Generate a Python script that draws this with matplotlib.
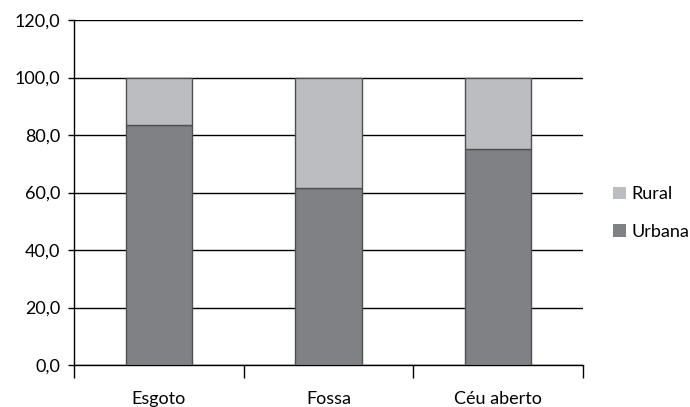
import matplotlib.pyplot as plt
from matplotlib.ticker import FixedLocator, FuncFormatter

plt.rcParams['font.family'] = ['Lato', 'DejaVu Sans']

categories = ["Esgoto", "Fossa", "Céu aberto"]
urbana = [83.5, 61.6, 75.0]
rural = [16.5, 38.4, 25.0]

fig = plt.figure(figsize=(6.9, 4.07), dpi=100)
ax = fig.add_axes([74 / 690, 1 - 365 / 407, 509 / 690, 345 / 407])

x = list(range(len(categories)))
b1 = ax.bar(x, urbana, width=0.39, color="#808185", edgecolor="#505050",
            linewidth=1, label="Urbana", zorder=3)
b2 = ax.bar(x, rural, width=0.39, bottom=urbana, color="#bcbdc0",
            edgecolor="#505050", linewidth=1, label="Rural", zorder=3)

ax.set_xlim(-0.5, 2.5)
ax.set_ylim(0, 120)
ax.set_yticks(range(0, 121, 20))
ax.yaxis.set_major_formatter(FuncFormatter(lambda v, p: f"{v:.1f}".replace(".", ",")))
ax.grid(axis="y", color="black", linewidth=1, zorder=0)

ax.set_xticks(x)
ax.set_xticklabels(categories)
ax.xaxis.set_minor_locator(FixedLocator([-0.5, 0.5, 1.5, 2.5]))
ax.tick_params(axis="x", which="major", length=0, pad=18.5, labelsize=13)
ax.tick_params(axis="x", which="minor", length=9.5, width=1, direction="out")
ax.tick_params(axis="y", length=4, width=1, pad=6, labelsize=13)

for s in ["top", "right"]:
    ax.spines[s].set_visible(False)
for s in ["left", "bottom"]:
    ax.spines[s].set_linewidth(1)

leg = fig.legend([b2, b1], ["Rural", "Urbana"], loc="center left",
                 bbox_to_anchor=(613 / 690, 1 - 213 / 407), frameon=False,
                 fontsize=13, handlelength=0.7, handleheight=0.7,
                 handletextpad=0.3, labelspacing=1.2, borderpad=0,
                 borderaxespad=0)
for h in leg.legend_handles:
    h.set_edgecolor("none")

fig.savefig("out.png", dpi=100)
